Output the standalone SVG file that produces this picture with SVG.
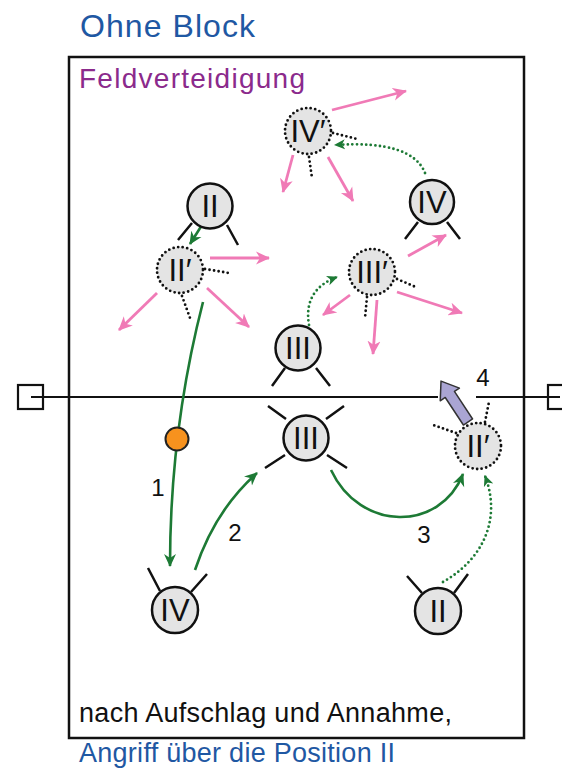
<svg xmlns="http://www.w3.org/2000/svg" width="562" height="777" viewBox="0 0 562 777">
<style>
.t{font-family:"Liberation Sans","DejaVu Sans",sans-serif}
.pl{fill:#e4e4e4;stroke:#111;stroke-width:2.5}
.pd{fill:#e4e4e4;stroke:#111;stroke-width:2.8;stroke-dasharray:0 4.6;stroke-linecap:round}
.lg{stroke:#111;stroke-width:2.5;fill:none}
.dl{stroke:#111;stroke-width:2.8;stroke-dasharray:0 4.6;stroke-linecap:round;fill:none}
.num{font-family:"Liberation Sans","DejaVu Sans",sans-serif;font-size:31px;fill:#111;text-anchor:middle}
.lbl{font-family:"Liberation Sans","DejaVu Sans",sans-serif;font-size:24px;fill:#111;text-anchor:middle}
.pk{stroke:#f07ab6;stroke-width:2.8;fill:none;marker-end:url(#ap)}
.gs{stroke:#1d7a35;stroke-width:2.6;fill:none;marker-end:url(#ag)}
.gd{stroke:#1d7a35;stroke-width:2.8;fill:none;stroke-dasharray:0 4.6;stroke-linecap:round;marker-end:url(#agd)}
</style>
<defs>
<marker id="ap" viewBox="0 0 15 15" refX="13" refY="7.5" markerWidth="15" markerHeight="15" markerUnits="userSpaceOnUse" orient="auto"><path d="M0,1 L14,7.5 L0,14 L4,7.5 z" fill="#f07ab6"/></marker>
<marker id="ag" viewBox="0 0 14 14" refX="12" refY="7" markerWidth="14" markerHeight="14" markerUnits="userSpaceOnUse" orient="auto"><path d="M0,1 L13,7 L0,13 L4,7 z" fill="#1d7a35"/></marker>
<marker id="agd" viewBox="0 0 12 12" refX="10" refY="6" markerWidth="12" markerHeight="12" markerUnits="userSpaceOnUse" orient="auto"><path d="M0,1 L11,6 L0,11 L3,6 z" fill="#1d7a35"/></marker>
</defs>
<rect width="562" height="777" fill="#fff"/>

<text class="t" x="80" y="37" font-size="32" fill="#1f58a3" textLength="175">Ohne Block</text>
<rect x="69" y="57" width="455" height="681" fill="none" stroke="#111" stroke-width="2.5"/>
<text class="t" x="79" y="88" font-size="28" fill="#8b2a8c" textLength="226">Feldverteidigung</text>
<text class="t" x="79" y="722" font-size="27" fill="#111" textLength="373">nach Aufschlag und Annahme,</text>
<text class="t" x="79" y="762" font-size="27" fill="#1f58a3" textLength="316">Angriff über die Position II</text>

<g id="net">
<line x1="31" y1="397" x2="438" y2="397" stroke="#111" stroke-width="2.2"/>
<line x1="476" y1="397" x2="560" y2="397" stroke="#111" stroke-width="2.2"/>
<rect x="18" y="385" width="25" height="24" fill="none" stroke="#111" stroke-width="2.2"/>
<rect x="548" y="385" width="25" height="24" fill="none" stroke="#111" stroke-width="2.2"/>
</g>

<g id="connectors">
<path class="gs" d="M200.7,227 L190,244"/>
<path class="gs" d="M203,302 Q170,430 170,566"/>
<path class="gs" d="M195,570 Q215,510 257,473"/>
<path class="gs" d="M331,470 C360,532 440,532 463,474"/>
<path class="gd" d="M443,582 C482,560 502,520 485,476"/>
<path class="gd" d="M425,173 Q412,140 335,145"/>
<path class="gd" d="M309,325 Q303,290 337,277"/>
<path class="pk" d="M210,258 L269,258"/>
<path class="pk" d="M207,288 L249,327"/>
<path class="pk" d="M157,293 L119,330"/>
<path class="pk" d="M332,110 L406,91"/>
<path class="pk" d="M293,155 L283,192"/>
<path class="pk" d="M328,157 L353,201"/>
<path class="pk" d="M408,256 L446,235"/>
<path class="pk" d="M350,295 L323,315"/>
<path class="pk" d="M377,300 L373,354"/>
<path class="pk" d="M397,292 L462,313"/>
<polygon transform="translate(468,422) rotate(-33.4)" points="-5.5,0 5.5,0 5.5,-33 11.5,-33 0,-49 -11.5,-33 -5.5,-33" fill="#aaa5d3" stroke="#333" stroke-width="1.5" stroke-linejoin="round"/>
</g>

<g id="ball"><circle cx="177" cy="439" r="11.5" fill="#f7921e" stroke="#222" stroke-width="2"/></g>

<g id="lbl1"><text class="lbl" x="158" y="496">1</text></g>
<g id="lbl2"><text class="lbl" x="235" y="541">2</text></g>
<g id="lbl3"><text class="lbl" x="424" y="543">3</text></g>
<g id="lbl4"><text class="lbl" x="483" y="386">4</text></g>

<g id="node-II-top">
<path class="lg" d="M192,223 L178,240 M227,225 L238,245"/>
<circle class="pl" cx="210" cy="206" r="22.5"/>
<text class="num" x="210" y="217">II</text>
</g>

<g id="node-II-prime-top">
<path class="dl" d="M205,269 L229,273 M182,296 L190,318"/>
<circle class="pd" cx="180" cy="270" r="23"/>
<text class="num" x="180" y="281">II′</text>
</g>

<g id="node-IV-prime">
<path class="dl" d="M333,133 L357,139 M309,157 L312,178"/>
<circle class="pd" cx="308" cy="131" r="23"/>
<text class="num" x="308" y="142">IV′</text>
</g>

<g id="node-IV-top">
<path class="lg" d="M418,222 L405,239 M447,222 L460,239"/>
<circle class="pl" cx="432" cy="202" r="22"/>
<text class="num" x="432" y="213">IV</text>
</g>

<g id="node-III-prime">
<path class="dl" d="M397,279 L418,288 M367,297 L365,318"/>
<circle class="pd" cx="372" cy="272" r="23"/>
<text class="num" x="372" y="283">III′</text>
</g>

<g id="node-III-upper">
<path class="lg" d="M285,368 L272,386 M316,368 L330,386"/>
<circle class="pl" cx="298" cy="348" r="22.5"/>
<text class="num" x="298" y="359">III</text>
</g>

<g id="node-III-mid">
<path class="lg" d="M326,419 L344,406 M327,455 L347,468 M286,419 L268,406 M285,455 L265,468"/>
<circle class="pl" cx="306" cy="438" r="22.5"/>
<text class="num" x="306" y="449">III</text>
</g>

<g id="node-II-prime-right">
<path class="dl" d="M485,422 L489,402 M456,433 L433,425"/>
<circle class="pd" cx="478" cy="446" r="23"/>
<text class="num" x="478" y="457">II′</text>
</g>

<g id="node-IV-bottom">
<path class="lg" d="M160,591 L148,568 M191,592 L207,574"/>
<circle class="pl" cx="175" cy="610" r="23"/>
<text class="num" x="175" y="621">IV</text>
</g>

<g id="node-II-bottom">
<path class="lg" d="M422,593 L407,576 M454,593 L468,574"/>
<circle class="pl" cx="438" cy="611" r="23"/>
<text class="num" x="438" y="622">II</text>
</g>
</svg>
